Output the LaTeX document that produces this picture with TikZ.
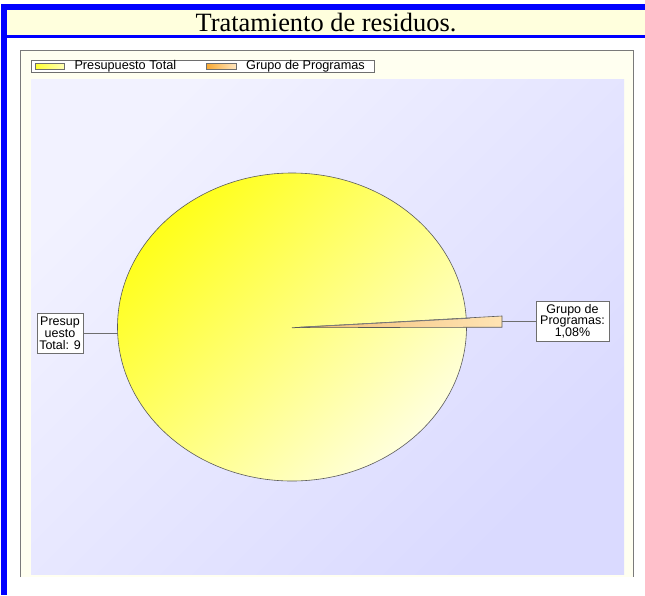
\documentclass[tikz,border=0pt]{standalone}
\usepackage{fontspec}
\setmainfont{Liberation Sans}
\newfontfamily\titlefont{Liberation Serif}
\definecolor{frameblue}{HTML}{0000FF}
\definecolor{titlebg}{HTML}{FFFFDD}
\definecolor{panelbg}{HTML}{FFFFF0}
\definecolor{panelline}{HTML}{7A7A7A}
\definecolor{plotA}{HTML}{F2F2FF}
\definecolor{plotB}{HTML}{DADAFF}
\definecolor{pieA}{HTML}{FFFF1A}
\definecolor{pieB}{HTML}{FFFFDD}
\definecolor{pieedge}{HTML}{5A5A5A}
\definecolor{sliceA}{HTML}{F2BC70}
\definecolor{sliceB}{HTML}{FFE4B4}
\definecolor{swYA}{HTML}{FFFF30}
\definecolor{swYB}{HTML}{FFFFB8}
\definecolor{swOA}{HTML}{F8A830}
\definecolor{swOB}{HTML}{FFE6C0}
\definecolor{lblline}{HTML}{6E6E6E}
\begin{document}
\begin{tikzpicture}[x=1pt,y=-1pt,
  lbl/.style={draw=lblline, fill=white, inner sep=0pt, align=center,
    font=\fontsize{12.5}{11.6}\selectfont},
  legtext/.style={anchor=west, inner sep=0pt, font=\fontsize{12.7}{14}\selectfont},
  swatch/.style={draw=lblline},
  conn/.style={draw=lblline, line width=0.8pt}]
\useasboundingbox (0,0) rectangle (645,595);
\fill[white] (0,0) rectangle (645,595);
% outer frame
\fill[frameblue] (1,4) rectangle (7,595);
\fill[frameblue] (1,4) rectangle (645,10);
\fill[titlebg] (7,10) rectangle (645,35);
\fill[frameblue] (7,35) rectangle (645,38);
\node[inner sep=0pt, font=\titlefont\fontsize{26.4}{30}\selectfont] (title) at (326,22.5) {Tratamiento de residuos.};
% chart panel
\fill[panelbg] (20,50) rectangle (633,577);
\draw[panelline, line width=0.9pt] (20,577) -- (20,50) -- (633,50) -- (633,577);
\shade[top color=plotA, bottom color=plotB, shading angle=45] (31,79) rectangle (624,574);
% legend
\draw[lblline, fill=white, line width=0.9pt] (31,60.3) rectangle (374.3,72.7);
\shade[swatch, left color=swYA, right color=swYB] (35,63.3) rectangle (64.3,68.7);
\node[legtext] (leg1) at (74.3,66.5) {Presupuesto Total};
\shade[swatch, left color=swOA, right color=swOB] (206,63.3) rectangle (236,68.7);
\node[legtext] (leg2) at (246,66.5) {Grupo de Programas};
% pie
\shade[top color=pieA, bottom color=pieB, shading angle=45, draw=pieedge, line width=0.6pt] (292,327) ellipse [x radius=174.5, y radius=154];
\shade[left color=sliceA, right color=sliceB, draw=pieedge, line width=0.6pt] (292,327.7) -- (502,316) -- (502,327.2) -- cycle;
\draw[pieedge!80, line width=0.8pt] (300,327.2) -- (470,318.2);
% labels
\node[lbl, minimum width=46.6pt, minimum height=40pt] (lbl1) at (60,333.3) {Presup\\uesto\\Total: 9};
\node[lbl, minimum width=73pt, minimum height=40pt] (lbl2) at (572.5,321) {Grupo de\\Programas:\\1,08\%};
\coordinate (pieL) at (117.5,333.3);
\coordinate (sliceR) at (502,321);
\draw[conn] (lbl1.east) -- (pieL);
\draw[conn] (sliceR) -- (lbl2.west);
\end{tikzpicture}
\end{document}
